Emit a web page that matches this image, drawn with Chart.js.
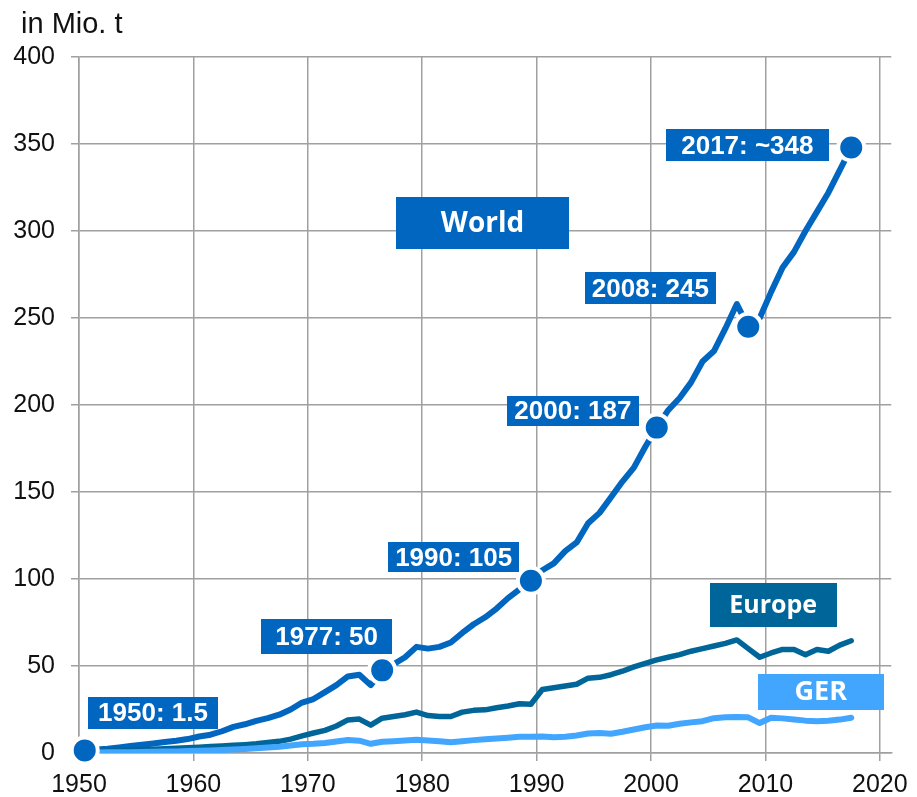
<!DOCTYPE html>
<html lang="de">
<head>
  <meta charset="UTF-8">
  <title>Kunststoffproduktion in Mio. t</title>
  <script src="https://cdn.jsdelivr.net/npm/chart.js"></script>
  <style>
    html, body {
      margin: 0;
      padding: 0;
      background: #fff;
    }
    #wrap {
      width: 917px;
      height: 797px;
      position: relative;
    }
  </style>
</head>
<body>
  <div id="wrap"><canvas id="chart"></canvas></div>

  <script>
    // Jahre (Datenpunkte liegen jeweils zur Jahresmitte)
    const years = [
      1950, 1951, 1952, 1953, 1954, 1955, 1956, 1957, 1958, 1959,
      1960, 1961, 1962, 1963, 1964, 1965, 1966, 1967, 1968, 1969,
      1970, 1971, 1972, 1973, 1974, 1975, 1976, 1977, 1978, 1979,
      1980, 1981, 1982, 1983, 1984, 1985, 1986, 1987, 1988, 1989,
      1990, 1991, 1992, 1993, 1994, 1995, 1996, 1997, 1998, 1999,
      2000, 2001, 2002, 2003, 2004, 2005, 2006, 2007, 2008, 2009,
      2010, 2011, 2012, 2013, 2014, 2015, 2016, 2017
    ];

    // Welt
    const world = [
      1.5, 2, 2.5, 3.2, 4, 4.7, 5.5, 6.3, 7, 8,
      9.5, 10.5, 12.5, 15, 16.5, 18.5, 20, 22, 25, 29,
      31, 35, 39, 44, 45, 39, 47.5, 51, 55, 61,
      60, 61, 63.5, 69, 74, 78, 83, 89, 94, 99,
      105, 109, 116, 121, 132, 138, 147, 156, 164, 176,
      187, 197, 204, 213, 225, 231, 244, 258, 245, 250,
      265, 279, 288, 300, 311, 322, 335, 348
    ];

    // Europa
    const europe = [
      1.0, 1.2, 1.4, 1.6, 1.8, 2.0, 2.2, 2.5, 2.7, 3.0,
      3.3, 3.7, 4.0, 4.4, 4.8, 5.3, 6.0, 6.7, 8.0, 9.8,
      11.5, 13, 15.5, 19, 19.5, 16, 20, 21, 22, 23.5,
      21.5, 21, 21, 23.5, 24.5, 24.8, 26, 27, 28.3, 28,
      36.5, 37.5, 38.5, 39.5, 43, 43.5, 45, 47, 49.5, 51.5,
      53.5, 55, 56.5, 58.5, 60, 61.5, 63, 65, 60, 55,
      57.5, 59.5, 59.5, 56.5, 59.5, 58.5, 62, 64.5
    ];

    // Deutschland
    const ger = [
      0.3, 0.35, 0.4, 0.45, 0.5, 0.6, 0.7, 0.8, 0.9, 1.1,
      1.3, 1.5, 1.7, 2.0, 2.3, 2.7, 3.1, 3.6, 4.3, 5.0,
      5.3, 5.8, 6.6, 7.5, 7.1, 5.3, 6.5, 6.8, 7.2, 7.6,
      7.2, 6.8, 6.2, 6.8, 7.4, 7.9, 8.3, 8.8, 9.3, 9.4,
      9.5, 9.0, 9.4, 10.1, 11.2, 11.5, 11.1, 12.2, 13.5, 14.8,
      15.8, 15.7, 16.8, 17.6, 18.3, 20.0, 20.5, 20.7, 20.5, 17.2,
      20.3, 19.9, 19.2, 18.6, 18.3, 18.5, 19.2, 20.3
    ];

    // markierte Punkte auf der Weltkurve
    const markerYears = [1950, 1976, 1989, 2000, 2008, 2017];
    const markerValues = [1.5, 47.5, 99, 187, 245, 348];
    const markerLabels = ['1950: 1.5', '1977: 50', '1990: 105', '2000: 187', '2008: 245', '2017: ~348'];

    const xTicks = [1950, 1960, 1970, 1980, 1990, 2000, 2010, 2020];

    const worldColor = '#0066c0';
    const europeColor = '#006699';
    const gerColor = '#42a6ff';
    const gridColor = '#a0a0a0';
    const axisFont = '"Liberation Sans", Arial, sans-serif';

    // Beschriftungskästen (Mitte in Datenkoordinaten)
    const labelFont = 'bold 26px "Liberation Sans", Arial, sans-serif';
    const nameFont = '"Open Sans", "Noto Sans", sans-serif';
    const boxes = [
      { text: markerLabels[0], x: 1956.47, y: 22.9, w: 130, h: 32, bg: worldColor, font: labelFont },
      { text: markerLabels[1], x: 1971.65, y: 66.9, w: 131, h: 35, bg: worldColor, font: labelFont },
      { text: markerLabels[2], x: 1982.75, y: 112.4, w: 131, h: 30, bg: worldColor, font: labelFont },
      { text: markerLabels[3], x: 1993.17, y: 196.8, w: 132, h: 30, bg: worldColor, font: labelFont },
      { text: markerLabels[4], x: 1999.94, y: 267, w: 131, h: 32, bg: worldColor, font: labelFont },
      { text: markerLabels[5], x: 2008.42, y: 349.2, w: 163, h: 32, bg: worldColor, font: labelFont },
      { text: 'World', x: 1985.27, y: 304.8, w: 173, h: 52, bg: worldColor, font: 'bold 28px ' + nameFont },
      { text: 'Europe', x: 2010.68, y: 85.3, w: 127, h: 44, bg: europeColor, font: 'bold 25px ' + nameFont },
      { text: 'GER', x: 2014.84, y: 35.2, w: 126, h: 36, bg: gerColor, font: 'bold 27px ' + nameFont }
    ];

    // Reihe -> {x, y} (Jahresmitte)
    function toPoints(values) {
      return years.map((yr, i) => ({ x: yr + 0.5, y: values[i] }));
    }

    const markerPoints = markerYears.map((yr, i) => ({ x: yr + 0.5, y: markerValues[i] }));

    const boxPlugin = {
      id: 'boxes',
      afterDatasetsDraw(chart) {
        const { ctx } = chart;
        const xs = chart.scales.x;
        const ys = chart.scales.y;
        ctx.save();
        boxes.forEach(b => {
          const cx = xs.getPixelForValue(b.x);
          const cy = ys.getPixelForValue(b.y);
          ctx.fillStyle = b.bg;
          ctx.fillRect(Math.round(cx - b.w / 2), Math.round(cy - b.h / 2), b.w, b.h);
          ctx.fillStyle = '#fff';
          ctx.font = b.font;
          ctx.textAlign = 'center';
          ctx.textBaseline = 'middle';
          ctx.fillText(b.text, cx, cy + 1);
        });
        // Einheit oben links
        ctx.fillStyle = '#111';
        ctx.font = '29px ' + axisFont;
        ctx.textAlign = 'left';
        ctx.textBaseline = 'alphabetic';
        ctx.fillText('in Mio. t', 21, 33);
        ctx.restore();
      }
    };

    const lineStyle = {
      borderWidth: 6,
      pointRadius: 0,
      tension: 0,
      fill: false,
      borderJoinStyle: 'round',
      borderCapStyle: 'round'
    };

    new Chart(document.getElementById('chart'), {
      type: 'line',
      data: {
        datasets: [
          {
            label: 'Marker',
            data: markerPoints,
            showLine: false,
            pointRadius: 13,
            pointBorderWidth: 4,
            pointBackgroundColor: worldColor,
            pointBorderColor: '#fff',
            clip: false
          },
          { label: 'GER', data: toPoints(ger), borderColor: gerColor, ...lineStyle },
          { label: 'Europe', data: toPoints(europe), borderColor: europeColor, ...lineStyle, borderWidth: 5.5 },
          { label: 'World', data: toPoints(world), borderColor: worldColor, ...lineStyle }
        ]
      },
      options: {
        responsive: true,
        maintainAspectRatio: false,
        animation: false,
        layout: {
          padding: { top: 57, right: 25, left: 0, bottom: 0 }
        },
        plugins: {
          legend: { display: false },
          tooltip: { enabled: false }
        },
        scales: {
          x: {
            type: 'linear',
            min: 1950,
            max: 2021,
            afterBuildTicks: s => { s.ticks = xTicks.map(v => ({ value: v })); },
            afterFit: s => { s.height = 44; },
            ticks: {
              stepSize: 10,
              autoSkip: false,
              maxRotation: 0,
              padding: 9,
              color: '#111',
              font: { size: 25, family: axisFont },
              callback: v => String(v)
            },
            grid: { color: gridColor, lineWidth: 1.5, tickLength: 8 },
            border: { color: gridColor, width: 1.5 }
          },
          y: {
            min: 0,
            max: 400,
            afterFit: s => { s.width = 79; },
            ticks: {
              stepSize: 50,
              padding: 16,
              color: '#111',
              font: { size: 25, family: axisFont }
            },
            grid: { color: gridColor, lineWidth: 1.5, tickLength: 8 },
            border: { color: gridColor, width: 1.5 }
          }
        }
      },
      plugins: [boxPlugin]
    });
  </script>
</body>
</html>
